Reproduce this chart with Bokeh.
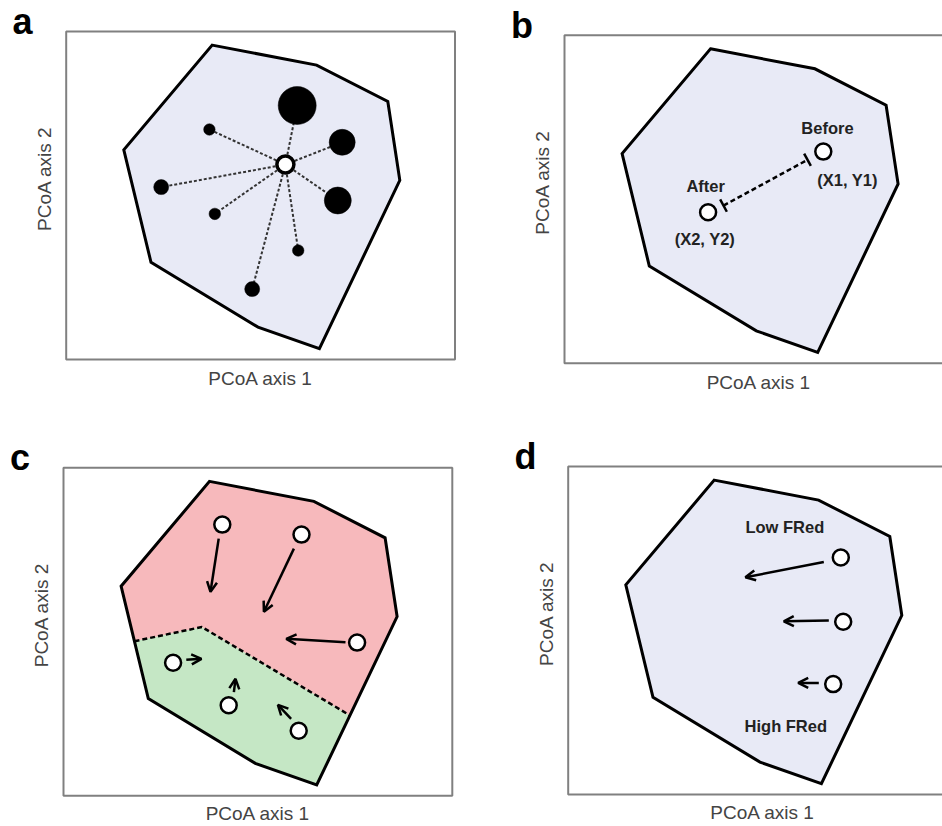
from bokeh.plotting import figure
from bokeh.layouts import column, row
from bokeh.models import Range1d, Arrow, OpenHead, TeeHead, ColumnDataSource
from bokeh.core.properties import value
from bokeh.embed import file_html
from bokeh.resources import INLINE
import math

# ---------------- data (PCoA space, arbitrary units; panel box = 0..97 x 0..82) ----------------
# convex hull of the community (same in all panels)
hull_x = [36.5, 62.6, 80.4, 83.4, 63.3, 47.95, 21.2, 14.4]
hull_y = [78.6, 73.6, 64.5, 44.8, 2.7, 8.1, 24.3, 52.4]

# panel a: centroid and samples (weight -> point size)
a_cent_x = [54.8]
a_cent_y = [48.75]
a_x = [57.75, 69.0, 67.9, 35.8, 23.75, 37.15, 58.0, 46.5]
a_y = [63.5, 54.3, 39.75, 57.5, 43.1, 36.4, 27.25, 17.6]
a_weight = [3.8, 2.6, 2.7, 1.15, 1.5, 1.15, 1.15, 1.5]

# panel b: before / after
b_x = [64.7, 35.9]
b_y = [52.9, 37.75]
b_seg_x0 = [39.75]
b_seg_y0 = [39.4]
b_seg_x1 = [60.75]
b_seg_y1 = [50.85]
b_text = ["Before", "(X1, Y1)", "After", "(X2, Y2)"]
b_text_x = [65.75, 70.75, 35.3, 35.1]
b_text_y = [58.75, 45.7, 44.2, 31.1]

# panel c: two regions and shifts
c_div_x = [17.75, 34.6, 71.6]
c_div_y = [38.65, 42.2, 20.1]
c_low_x = [17.75, 34.6, 71.6, 63.3, 47.95, 21.2]
c_low_y = [38.65, 42.2, 20.1, 2.7, 8.1, 24.3]
c_x = [39.7, 59.5, 73.4, 27.4, 41.3, 58.8]
c_y = [67.8, 65.3, 38.3, 33.25, 22.65, 16.25]
c_ax0 = [38.8, 57.6, 70.5, 30.7, 42.6, 56.9]
c_ay0 = [64.3, 61.8, 38.4, 34.0, 25.9, 19.25]
c_ax1 = [36.75, 50.1, 55.7, 34.5, 43.0, 53.6]
c_ay1 = [51.0, 46.0, 39.25, 34.25, 29.25, 22.75]

# panel d: functional redundancy
d_x = [68.15, 68.75, 66.25]
d_y = [59.25, 43.2, 27.6]
d_ax0 = [63.9, 65.15, 62.65]
d_ay0 = [58.1, 43.5, 27.9]
d_ax1 = [44.3, 53.9, 57.5]
d_ay1 = [54.3, 43.3, 27.9]
d_text = ["Low FRed", "High FRed"]
d_text_x = [54.15, 54.4]
d_text_y = [67.0, 17.1]

# axis titles and panel letters
x_title = "PCoA axis 1"
y_title = "PCoA axis 2"
letters = ["a", "b", "c", "d"]

# ---------------- styling ----------------
FONT = "Liberation Sans"
HULL_FILL = "#E8EAF6"
PINK = "#F7B9BC"
GREEN = "#C5E7C5"
BOX_COLOR = "#808080"
LABEL_COLOR = "#444444"


def make_panel(letter, w, h, xr, yr, box_right, xlab_y):
    p = figure(width=w, height=h, x_range=Range1d(*xr), y_range=Range1d(*yr),
               min_border=0, x_axis_location=None, y_axis_location=None,
               output_backend="svg", toolbar_location=None)
    p.grid.visible = False
    p.outline_line_color = None
    p.background_fill_color = "white"
    p.border_fill_color = "white"
    # panel box (plot area of the schematic ordination)
    p.quad(left=[0], right=[box_right], bottom=[0], top=[82.0],
           fill_color=None, line_color=BOX_COLOR, line_width=2)
    # axis titles
    p.text([48.6], [xlab_y], text=[x_title], text_font=value(FONT),
           text_font_size="19px", text_align="center", text_baseline="middle",
           text_color=LABEL_COLOR)
    p.text([-5.5], [45.2], text=[y_title], text_font=value(FONT),
           text_font_size="19px", text_align="center", text_baseline="middle",
           text_color=LABEL_COLOR, angle=math.pi / 2)
    # panel letter
    p.text([-13.4], [84.5], text=[letter], text_font=value(FONT),
           text_font_style="bold", text_font_size="36px", text_align="left",
           text_baseline="middle", text_color="black")
    return p


def hull(p, fill):
    p.patch(hull_x, hull_y, fill_color=fill, line_color="black",
            line_width=3, line_join="miter")


def open_circles(p, xs, ys):
    p.scatter(xs, ys, marker="circle", size=16, fill_color="white",
              line_color="black", line_width=2.5)


def arrows(p, x0, y0, x1, y1):
    src = ColumnDataSource(dict(x0=x0, y0=y0, x1=x1, y1=y1))
    p.add_layout(Arrow(end=OpenHead(size=10, line_width=2.5, line_color="black"),
                       x_start="x0", y_start="y0", x_end="x1", y_end="y1",
                       source=src, line_width=2.5, line_color="black"))


def texts(p, xs, ys, labels):
    p.text(xs, ys, text=labels, text_font=value(FONT), text_font_style="bold",
           text_font_size="16.5px", text_align="center", text_baseline="middle",
           text_color="#222222")


# ---------------- panel a ----------------
pa = make_panel(letters[0], 471, 413, (-16.425, 101.325), (-13.5, 89.75), 97.2, -4.8)
hull(pa, HULL_FILL)
pa.segment(x0=a_cent_x * len(a_x), y0=a_cent_y * len(a_y), x1=a_x, y1=a_y,
           line_color="#333333", line_width=2, line_dash="3 2")
pa.scatter(a_x, a_y, marker="circle", size=[w * 10 for w in a_weight],
           fill_color="black", line_color="black", line_width=0.5)
pa.scatter(a_cent_x, a_cent_y, marker="circle", size=17, fill_color="white",
           line_color="black", line_width=3.5)

# ---------------- panel b ----------------
pb = make_panel(letters[1], 471, 413, (-23.25, 94.5), (-12.575, 90.675), 100.0, -4.8)
hull(pb, HULL_FILL)
bsrc = ColumnDataSource(dict(x0=b_seg_x0, y0=b_seg_y0, x1=b_seg_x1, y1=b_seg_y1))
pb.add_layout(Arrow(start=TeeHead(size=14, line_width=2.5, line_color="black"),
                    end=TeeHead(size=14, line_width=2.5, line_color="black"),
                    x_start="x0", y_start="y0", x_end="x1", y_end="y1", source=bsrc,
                    line_width=2.5, line_color="black", line_dash="5 3"))
open_circles(pb, b_x, b_y)
texts(pb, b_text_x, b_text_y, b_text)

# ---------------- panel c ----------------
pc = make_panel(letters[2], 471, 413, (-15.75, 102.0), (-7.675, 95.575), 97.2, -4.4)
pc.patch(hull_x, hull_y, fill_color=PINK, line_color=None)
pc.patch(c_low_x, c_low_y, fill_color=GREEN, line_color=None)
pc.line(c_div_x, c_div_y, line_color="black", line_width=2.5, line_dash="5 3")
pc.patch(hull_x, hull_y, fill_color=None, line_color="black", line_width=3,
         line_join="miter")
arrows(pc, c_ax0, c_ay0, c_ax1, c_ay1)
open_circles(pc, c_x, c_y)

# ---------------- panel d ----------------
pd_ = make_panel(letters[3], 471, 413, (-24.175, 93.575), (-8.0, 95.25), 100.0, -4.4)
hull(pd_, HULL_FILL)
arrows(pd_, d_ax0, d_ay0, d_ax1, d_ay1)
open_circles(pd_, d_x, d_y)
texts(pd_, d_text_x, d_text_y, d_text)

layout = column(row(pa, pb), row(pc, pd_))

with open("out.html", "w") as f:
    f.write(file_html(layout, INLINE))
